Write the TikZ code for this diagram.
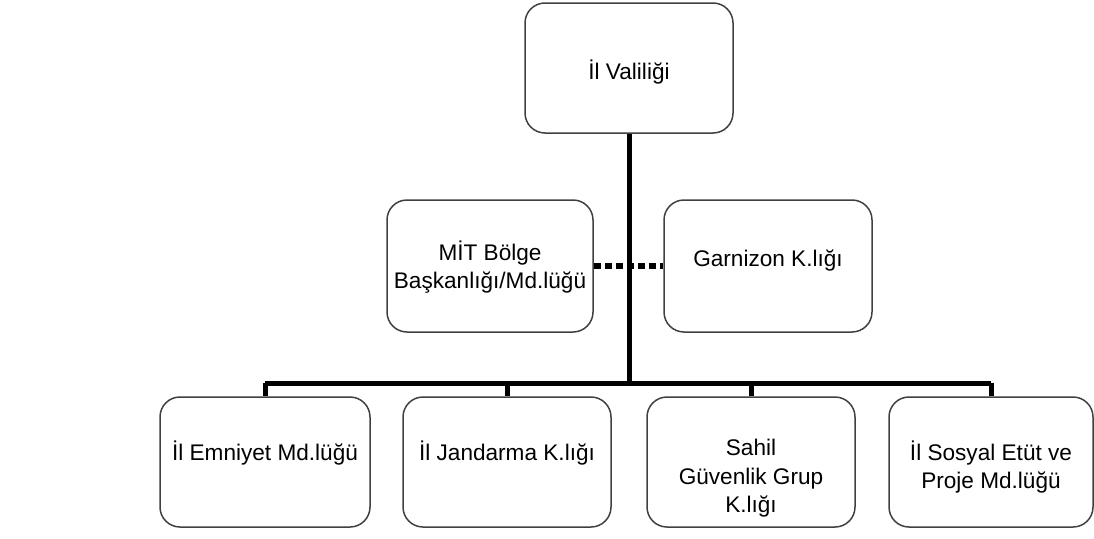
\documentclass[tikz,border=0pt]{standalone}
\usepackage{fontspec}
\setmainfont{Liberation Sans}
\newlength{\du}
\setlength{\du}{1pt}

\begin{document}
\begin{tikzpicture}[x=1\du,y=-1\du,
  kutu/.style={draw=dialinecolor,line width=1.5\du,rounded corners=20\du,
    minimum width=208\du,minimum height=130\du,inner sep=0pt},
  yazi/.style={anchor=north,align=center,inner sep=0pt,
    font=\fontsize{22.6}{28.5}\selectfont,execute at begin node=\strut},
  hat/.style={line width=5\du,draw=black},
  noktali/.style={line width=5.5\du,draw=black,dash pattern=on 7\du off 4\du}]
\definecolor{dialinecolor}{rgb}{0.250000, 0.250000, 0.250000}
\useasboundingbox (0,0) rectangle (1094,538);
% ust kutu
\node[kutu] (vali) at (629,68) {};
\node[yazi] (valiyazi) at ([yshift=-57\du]vali.north) {İl Valiliği};
% yan kutular
\node[kutu,minimum width=206\du,minimum height=132\du] (mit) at (490,266) {};
\node[yazi] (mityazi) at ([yshift=-41\du]mit.north) {MİT Bölge\\Başkanlığı/Md.lüğü};
\node[kutu,minimum height=132\du] (garnizon) at (768,266) {};
\node[yazi] (garnizonyazi) at ([yshift=-47\du]garnizon.north) {Garnizon K.lığı};
% alt kutular
\node[kutu,minimum width=210\du] (emniyet) at (265,462) {};
\node[kutu] (jandarma) at (507,462) {};
\node[kutu] (sahil) at (751,462) {};
\node[kutu,minimum width=204\du] (proje) at (991,462) {};
\node[yazi] (emniyetyazi) at ([yshift=-44\du]emniyet.north) {İl Emniyet Md.lüğü};
\node[yazi] (jandarmayazi) at ([yshift=-44\du]jandarma.north) {İl Jandarma K.lığı};
\node[yazi] (sahilyazi) at ([yshift=-43\du]sahil.north) {Sahil\\Güvenlik Grup\\K.lığı};
\node[yazi] (projeyazi) at ([yshift=-44\du]proje.north) {İl Sosyal Etüt ve\\Proje Md.lüğü};
\coordinate (dal) at (629,383);
% baglantilar
\draw[noktali] (mit.east) -- (garnizon.west);
\draw[hat] (vali.south) -- (dal);
\draw[hat] (emniyet.north |- dal) -- (proje.north |- dal);
\draw[hat] (emniyet.north |- dal) -- (emniyet.north);
\draw[hat] (jandarma.north |- dal) -- (jandarma.north);
\draw[hat] (sahil.north |- dal) -- (sahil.north);
\draw[hat] (proje.north |- dal) -- (proje.north);
\end{tikzpicture}
\end{document}
